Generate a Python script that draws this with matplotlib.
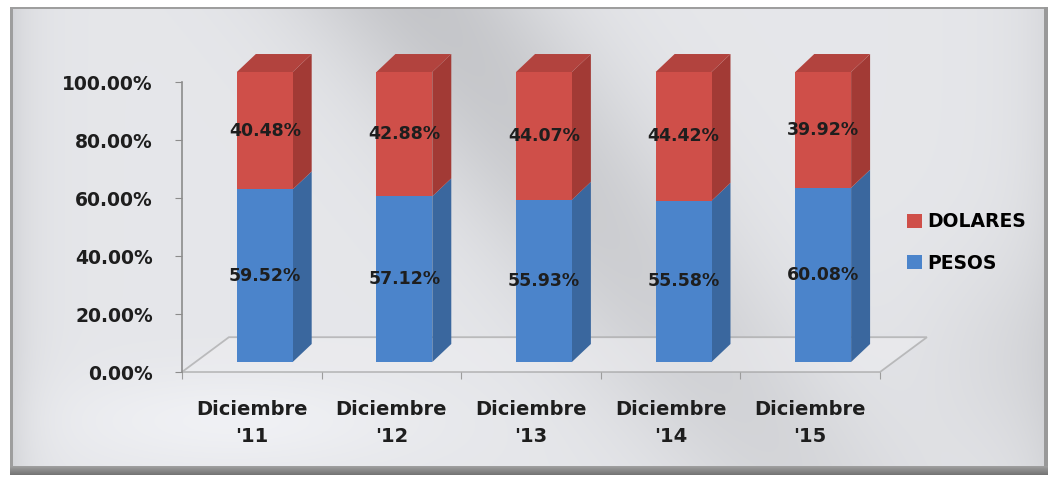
import numpy as np
import matplotlib.pyplot as plt
from matplotlib.patches import Polygon

# datos
categories = ["Diciembre\n'11", "Diciembre\n'12", "Diciembre\n'13", "Diciembre\n'14", "Diciembre\n'15"]
pesos = [59.52, 57.12, 55.93, 55.58, 60.08]
dolares = [40.48, 42.88, 44.07, 44.42, 39.92]
y_ticks = [0, 20, 40, 60, 80, 100]

plt.rcParams['font.family'] = ['DejaVu Sans']
plt.rcParams['font.weight'] = 'bold'

W, H = 1051, 478
fig = plt.figure(figsize=(W / 100, H / 100), dpi=100)

# fondo plateado con marco
yy, xx = np.mgrid[0:H, 0:W]
u = xx / W
v = yy / H
val = 0.90 - 0.13 * np.exp(-((u - 0.40 - 0.35 * v) ** 2) / 0.015) * (1 - 0.5 * v)
val += 0.04 * np.exp(-((u - 0.22) ** 2 / 0.03 + (v - 0.88) ** 2 / 0.01))
val -= 0.07 * np.exp(-np.clip(u - 0.012, 0, None) / 0.02)
val -= 0.05 * np.exp(-np.clip(0.993 - u, 0, None) / 0.03)
val -= 0.04 * np.exp(-((u - 0.97) ** 2 / 0.01 + (v - 0.75) ** 2 / 0.05))
img = np.ones((H, W, 3))
img[..., 0] = val
img[..., 1] = val + 0.004
img[..., 2] = val + 0.018
img = np.clip(img, 0, 1)
img[:7, :] = 1.0
img[:, :10] = 1.0
img[:, 1048:] = 1.0
img[7:9, 10:1048] = 0.62
img[7:474, 10:13] = 0.62
img[7:474, 1044:1048] = 0.6
for k, r in enumerate(range(466, 475)):
    img[r, 10:1048] = 0.62 - 0.02 * k
img[475:, :] = 1.0

bg = fig.add_axes([0, 0, 1, 1], zorder=0)
bg.imshow(img, aspect='auto', extent=[0, W, H, 0])
bg.axis('off')

ax = fig.add_axes([182 / W, (H - 372) / H, (880 - 182) / W, 290 / H], zorder=1)
ax.patch.set_alpha(0)
ax.set_xlim(0, 5)
ax.set_ylim(0, 100)

red = '#CF4F49'
red_side = '#A23A35'
red_top = '#B2433E'
blue = '#4B84CB'
blue_side = '#3A679E'

# piso 3D
fdx, fdy = 0.336, 12.0
ax.add_patch(Polygon([(0, 0), (5, 0), (5 + fdx, fdy), (fdx, fdy)], closed=True,
                     facecolor='#EDEDF0', alpha=0.6, edgecolor='#9C9C9C', lw=1.3,
                     clip_on=False, zorder=1))

x = np.arange(len(categories)) + 0.593
w = 0.4
base = 3.45
ddx, ddy = 0.136, 6.2
p = np.array(pesos)
d = np.array(dolares)

b1 = ax.bar(x, p, width=w, bottom=base, color=blue, clip_on=False, zorder=3)
b2 = ax.bar(x, d, width=w, bottom=base + p, color=red, clip_on=False, zorder=3)

for xi, pi, di in zip(x, p, d):
    x1 = xi + w / 2
    x0 = xi - w / 2
    mid = base + pi
    top = base + pi + di
    ax.add_patch(Polygon([(x1, base), (x1 + ddx, base + ddy), (x1 + ddx, mid + ddy), (x1, mid)],
                         closed=True, facecolor=blue_side, clip_on=False, zorder=2))
    ax.add_patch(Polygon([(x1, mid), (x1 + ddx, mid + ddy), (x1 + ddx, top + ddy), (x1, top)],
                         closed=True, facecolor=red_side, clip_on=False, zorder=2))
    ax.add_patch(Polygon([(x0, top), (x0 + ddx, top + ddy), (x1 + ddx, top + ddy), (x1, top)],
                         closed=True, facecolor=red_top, clip_on=False, zorder=2))
    ax.text(xi, base + pi / 2, f"{pi:.2f}%", ha='center', va='center',
            fontsize=12.5, color='#1E1E1E', zorder=5)
    ax.text(xi, mid + di / 2, f"{di:.2f}%", ha='center', va='center',
            fontsize=12.5, color='#1E1E1E', zorder=5)

# ejes
for s in ['top', 'right', 'bottom']:
    ax.spines[s].set_visible(False)
ax.spines['left'].set_color('#8C8C8C')
ax.spines['left'].set_linewidth(1.2)
ax.set_yticks(y_ticks)
ax.set_yticklabels([f"{t:.2f}%" for t in y_ticks])
ax.tick_params(axis='y', length=5, color='#8C8C8C', pad=16, labelsize=13.5, labelcolor='#1E1E1E')
ax.set_xticks(range(6))
ax.set_xticklabels([])
ax.tick_params(axis='x', which='major', length=5, color='#9C9C9C')
ax.set_xticks(np.arange(5) + 0.5, minor=True)
ax.set_xticklabels(categories, minor=True, linespacing=1.55)
ax.tick_params(axis='x', which='minor', length=0, pad=20, labelsize=14, labelcolor='#1E1E1E')

fig.legend([b2, b1], ['DOLARES', 'PESOS'], loc='center left', bbox_to_anchor=(907 / W, 0.4927),
           frameon=False, borderpad=0, borderaxespad=0, handlelength=0.8, handleheight=0.8,
           handletextpad=0.3, labelspacing=1.2, prop={'size': 13.5, 'weight': 'bold'})

fig.savefig('out.png', dpi=100)
